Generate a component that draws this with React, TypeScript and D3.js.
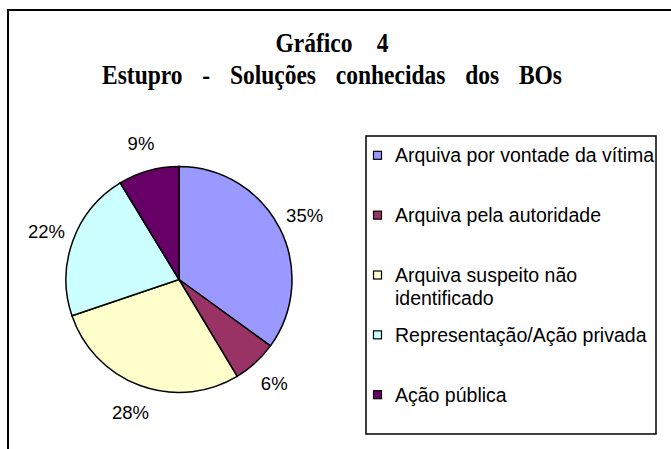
import React from "react";
import * as d3 from "d3";

// chart data
const titleLines = ["Gráfico 4", "Estupro - Soluções conhecidas dos BOs"];
const categories = [
  "Arquiva por vontade da vítima",
  "Arquiva pela autoridade",
  "Arquiva suspeito não identificado",
  "Representação/Ação privada",
  "Ação pública",
];
const shares = [35.0, 6.4, 28.4, 21.5, 8.7];
const colors = ["#9999FF", "#993366", "#FFFFCC", "#CCFFFF", "#660066"];

const W = 671;
const H = 449;
const SANS = "'Liberation Sans', Arial, sans-serif";
const SERIF = "'Liberation Serif', 'Times New Roman', serif";
const LEGEND_FONT = 19.5;

let ctx: CanvasRenderingContext2D | null = null;
function wrap(text: string, maxWidth: number): string[] {
  if (!ctx) ctx = document.createElement("canvas").getContext("2d");
  if (!ctx) return [text];
  ctx.font = `${LEGEND_FONT}px ${SANS}`;
  const words = text.split(" ");
  const lines: string[] = [];
  let cur = "";
  words.forEach((w) => {
    const next = cur ? cur + " " + w : w;
    if (cur && ctx!.measureText(next).width > maxWidth) {
      lines.push(cur);
      cur = w;
    } else cur = next;
  });
  if (cur) lines.push(cur);
  return lines;
}

export default function App() {
  const cx = 179;
  const cy = 279.5;
  const radius = 113;

  const pie = d3
    .pie<number>()
    .sort(null)
    .value((d) => d)
    .startAngle(0)
    .endAngle(2 * Math.PI);
  const arcs = pie(shares);
  const arc = d3.arc<d3.PieArcDatum<number>>().innerRadius(0).outerRadius(radius);
  const labelArc = d3.arc<d3.PieArcDatum<number>>().innerRadius(141).outerRadius(141);

  const legend = { x: 366, y: 136, w: 290, h: 298 };
  const itemY = d3
    .scalePoint<number>()
    .domain(d3.range(categories.length))
    .range([162.3, 401.7]);

  const titleSpacing = [21, 16];

  return (
    <svg
      width={W}
      height={H}
      style={{ position: "absolute", left: 0, top: 0, background: "#fff" }}
    >
      <rect x={8} y={10} width={700} height={500} fill="#fff" stroke="#000" strokeWidth={2} />

      {titleLines.map((t, i) => (
        <text
          key={i}
          transform={`translate(332,${52 + i * 32}) scale(0.87,1)`}
          textAnchor="middle"
          fontFamily={SERIF}
          fontWeight="bold"
          fontSize={27}
          wordSpacing={titleSpacing[i]}
          fill="#000"
        >
          {t}
        </text>
      ))}

      <g transform={`translate(${cx},${cy})`}>
        {arcs.map((a, i) => (
          <path key={i} d={arc(a) || ""} fill={colors[i]} stroke="#000" strokeWidth={1.5} />
        ))}
        {arcs.map((a, i) => {
          const [lx, ly] = labelArc.centroid(a);
          return (
            <text
              key={i}
              x={lx}
              y={ly}
              dy="0.36em"
              textAnchor="middle"
              fontFamily={SANS}
              fontSize={18.5}
              fill="#000"
            >
              {Math.round(a.data)}%
            </text>
          );
        })}
      </g>

      <rect
        x={legend.x}
        y={legend.y}
        width={legend.w}
        height={legend.h}
        fill="#fff"
        stroke="#000"
        strokeWidth={1.5}
      />
      {categories.map((c, i) => {
        const y = itemY(i) as number;
        const lines = wrap(c, 262);
        return (
          <g key={c}>
            <rect x={373.5} y={y - 11} width={8} height={8} fill={colors[i]} stroke="#000" strokeWidth={1.2} />
            <text x={395} y={y} fontFamily={SANS} fontSize={LEGEND_FONT} fill="#000">
              {lines.map((l, j) => (
                <tspan key={j} x={395} y={y + j * 23}>
                  {l}
                </tspan>
              ))}
            </text>
          </g>
        );
      })}
    </svg>
  );
}
